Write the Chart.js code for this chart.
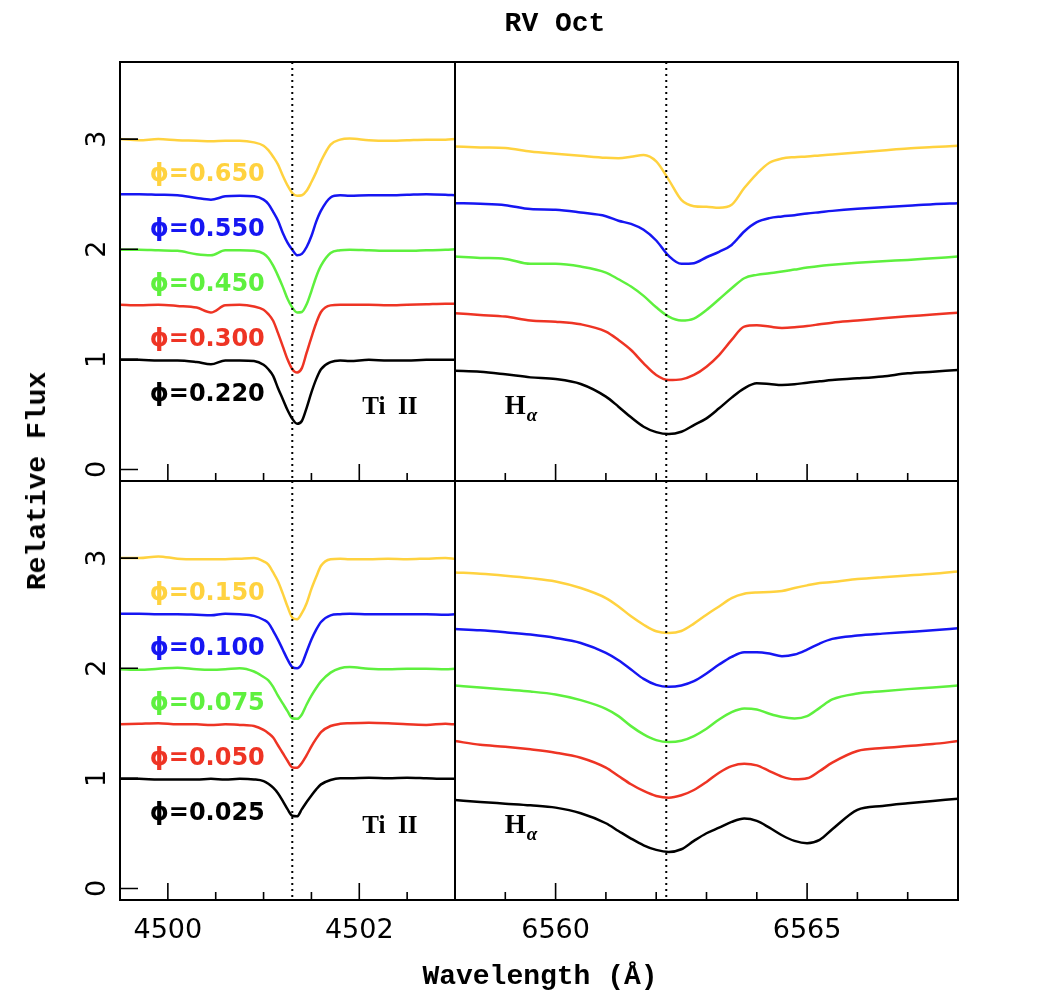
<!DOCTYPE html>
<html>
<head>
<meta charset="utf-8">
<title>RV Oct</title>
<script src="https://cdn.jsdelivr.net/npm/chart.js@4.4.1/dist/chart.umd.min.js"></script>
<style>
  html, body { margin: 0; padding: 0; background: #fff; }
  #wrap { position: relative; width: 1051px; height: 1004px; overflow: hidden; }
  #wrap canvas { position: absolute; left: 0; top: 0; }
  .ttl {
    position: absolute; white-space: nowrap; color: #000;
    font-family: "Liberation Mono", "DejaVu Sans Mono", monospace;
    font-weight: bold; font-size: 28px; line-height: 1;
    transform: translate(-50%, -50%);
  }
  #title  { left: 555px; top: 24px; }
  #xtitle { left: 540px; top: 977px; }
  #ytitle { left: 38px;  top: 481px; transform: translate(-50%, -50%) rotate(-90deg); }
</style>
</head>
<body>
<div id="wrap">
  <canvas id="c-tl" width="1051" height="1004"></canvas>
  <canvas id="c-tr" width="1051" height="1004"></canvas>
  <canvas id="c-bl" width="1051" height="1004"></canvas>
  <canvas id="c-br" width="1051" height="1004"></canvas>
  <div class="ttl" id="title">RV Oct</div>
  <div class="ttl" id="xtitle">Wavelength (Å)</div>
  <div class="ttl" id="ytitle">Relative Flux</div>
</div>

<script>
/* ---------- data : wavelength grids ---------- */
const TI_WAVE = [4499.5, 4499.7, 4499.9, 4500.1, 4500.3, 4500.45, 4500.6, 4500.75, 4500.9,
  4501.0, 4501.05, 4501.1, 4501.15, 4501.2, 4501.25, 4501.3, 4501.35, 4501.4, 4501.45,
  4501.5, 4501.55, 4501.6, 4501.7, 4501.8, 4501.9, 4502.1, 4502.3, 4502.5, 4502.7, 4502.9, 4503.0];
const HA_WAVE = [6558, 6558.5, 6559, 6559.5, 6560, 6560.5, 6561, 6561.25, 6561.5, 6561.75,
  6562, 6562.25, 6562.5, 6562.75, 6563, 6563.25, 6563.5, 6563.75, 6564, 6564.25,
  6564.5, 6564.75, 6565, 6565.25, 6565.5, 6566, 6566.5, 6567, 6567.5, 6568];

/* ---------- Ti II, upper row (phi = 0.650 .. 0.220) ---------- */
const TI_650 = [3.00, 2.99, 3.00, 2.99, 2.985, 2.98, 2.985, 2.985, 2.97, 2.94, 2.90, 2.84, 2.77, 2.67, 2.58, 2.51, 2.485, 2.49, 2.53, 2.61, 2.70, 2.80, 2.95, 2.995, 3.005, 2.99, 2.985, 2.99, 2.995, 2.995, 3.00];
const TI_550 = [2.50, 2.50, 2.495, 2.49, 2.465, 2.45, 2.48, 2.485, 2.48, 2.45, 2.41, 2.34, 2.26, 2.15, 2.06, 1.995, 1.945, 1.958, 2.02, 2.12, 2.25, 2.35, 2.47, 2.49, 2.485, 2.49, 2.49, 2.495, 2.50, 2.495, 2.49];
const TI_450 = [1.995, 1.995, 1.99, 1.985, 1.955, 1.945, 1.99, 1.99, 1.985, 1.96, 1.92, 1.85, 1.76, 1.66, 1.55, 1.47, 1.425, 1.43, 1.50, 1.62, 1.75, 1.85, 1.965, 1.99, 1.995, 1.99, 1.985, 1.985, 1.99, 1.995, 2.00];
const TI_300 = [1.495, 1.49, 1.495, 1.485, 1.47, 1.425, 1.49, 1.495, 1.48, 1.45, 1.41, 1.35, 1.24, 1.12, 1.00, 0.91, 0.88, 0.92, 1.06, 1.20, 1.33, 1.43, 1.49, 1.495, 1.495, 1.495, 1.49, 1.495, 1.50, 1.505, 1.505];
const TI_220 = [0.995, 0.995, 0.99, 0.99, 0.975, 0.955, 0.99, 0.99, 0.985, 0.95, 0.91, 0.85, 0.74, 0.64, 0.54, 0.46, 0.415, 0.44, 0.56, 0.70, 0.82, 0.91, 0.975, 0.99, 0.985, 0.995, 0.99, 0.99, 0.995, 0.995, 0.995];

/* ---------- Ti II, lower row (phi = 0.150 .. 0.025) ---------- */
const TI_150 = [3.00, 3.00, 3.015, 2.995, 2.99, 2.99, 2.99, 2.995, 3.00, 2.97, 2.94, 2.87, 2.79, 2.68, 2.56, 2.46, 2.445, 2.50, 2.59, 2.72, 2.83, 2.93, 2.99, 2.995, 2.99, 2.99, 2.995, 2.99, 2.995, 3.00, 2.995];
const TI_100 = [2.495, 2.495, 2.49, 2.49, 2.485, 2.48, 2.495, 2.49, 2.475, 2.44, 2.41, 2.34, 2.26, 2.17, 2.08, 2.01, 2.00, 2.04, 2.15, 2.26, 2.35, 2.42, 2.48, 2.49, 2.495, 2.49, 2.49, 2.49, 2.49, 2.485, 2.49];
const TI_075 = [1.99, 1.985, 1.995, 2.005, 1.99, 1.985, 1.99, 2.00, 1.97, 1.92, 1.89, 1.83, 1.75, 1.68, 1.61, 1.545, 1.54, 1.58, 1.67, 1.75, 1.82, 1.88, 1.96, 2.00, 2.01, 1.995, 1.99, 1.995, 1.995, 1.99, 1.995];
const TI_050 = [1.49, 1.495, 1.50, 1.49, 1.49, 1.485, 1.49, 1.485, 1.475, 1.44, 1.41, 1.37, 1.30, 1.23, 1.16, 1.10, 1.095, 1.14, 1.21, 1.29, 1.36, 1.42, 1.475, 1.495, 1.50, 1.505, 1.50, 1.49, 1.485, 1.495, 1.49];
const TI_025 = [0.995, 0.995, 0.99, 0.99, 0.99, 0.995, 0.99, 0.995, 0.99, 0.975, 0.95, 0.915, 0.865, 0.795, 0.72, 0.66, 0.655, 0.72, 0.785, 0.845, 0.90, 0.945, 0.985, 1.00, 1.00, 1.005, 1.00, 1.005, 1.00, 0.995, 0.995];

/* ---------- H-alpha, upper row ---------- */
const HA_650 = [2.933, 2.924, 2.918, 2.888, 2.867, 2.848, 2.830, 2.827, 2.839, 2.855, 2.797, 2.630, 2.448, 2.391, 2.385, 2.376, 2.403, 2.555, 2.685, 2.785, 2.824, 2.836, 2.842, 2.852, 2.861, 2.879, 2.897, 2.915, 2.927, 2.939];
const HA_550 = [2.418, 2.412, 2.400, 2.364, 2.358, 2.333, 2.300, 2.258, 2.230, 2.176, 2.079, 1.939, 1.867, 1.873, 1.927, 1.976, 2.039, 2.161, 2.245, 2.282, 2.297, 2.309, 2.324, 2.336, 2.348, 2.367, 2.382, 2.394, 2.409, 2.418];
const HA_450 = [1.933, 1.921, 1.912, 1.867, 1.867, 1.842, 1.788, 1.727, 1.661, 1.576, 1.473, 1.388, 1.352, 1.370, 1.448, 1.545, 1.645, 1.736, 1.767, 1.782, 1.797, 1.815, 1.833, 1.848, 1.858, 1.876, 1.891, 1.903, 1.918, 1.933];
const HA_300 = [1.418, 1.403, 1.388, 1.352, 1.342, 1.318, 1.252, 1.176, 1.085, 0.964, 0.858, 0.812, 0.818, 0.858, 0.933, 1.039, 1.176, 1.297, 1.309, 1.297, 1.285, 1.291, 1.303, 1.318, 1.333, 1.352, 1.373, 1.391, 1.406, 1.424];
const HA_220 = [0.897, 0.888, 0.864, 0.836, 0.821, 0.776, 0.661, 0.570, 0.473, 0.388, 0.339, 0.321, 0.342, 0.403, 0.464, 0.555, 0.652, 0.736, 0.782, 0.776, 0.767, 0.773, 0.788, 0.800, 0.812, 0.827, 0.845, 0.873, 0.888, 0.903];

/* ---------- H-alpha, lower row ---------- */
const HA_150 = [2.870, 2.858, 2.840, 2.818, 2.788, 2.728, 2.637, 2.561, 2.471, 2.395, 2.335, 2.320, 2.338, 2.405, 2.486, 2.561, 2.637, 2.676, 2.688, 2.691, 2.701, 2.728, 2.752, 2.773, 2.782, 2.809, 2.827, 2.842, 2.858, 2.879];
const HA_100 = [2.356, 2.344, 2.326, 2.305, 2.275, 2.229, 2.139, 2.072, 1.988, 1.903, 1.849, 1.831, 1.843, 1.882, 1.952, 2.033, 2.103, 2.145, 2.145, 2.133, 2.109, 2.124, 2.169, 2.224, 2.266, 2.296, 2.314, 2.329, 2.344, 2.362];
const HA_075 = [1.843, 1.825, 1.806, 1.788, 1.761, 1.710, 1.631, 1.565, 1.474, 1.399, 1.347, 1.329, 1.341, 1.384, 1.450, 1.534, 1.601, 1.634, 1.625, 1.586, 1.556, 1.544, 1.565, 1.640, 1.716, 1.770, 1.791, 1.810, 1.825, 1.843];
const HA_050 = [1.338, 1.305, 1.287, 1.263, 1.233, 1.187, 1.097, 1.021, 0.946, 0.885, 0.840, 0.824, 0.846, 0.894, 0.967, 1.051, 1.111, 1.133, 1.118, 1.066, 1.015, 0.991, 1.000, 1.066, 1.142, 1.248, 1.275, 1.293, 1.311, 1.338];
const HA_025 = [0.803, 0.785, 0.770, 0.755, 0.734, 0.683, 0.592, 0.522, 0.453, 0.392, 0.350, 0.332, 0.356, 0.432, 0.501, 0.552, 0.604, 0.634, 0.613, 0.552, 0.483, 0.432, 0.411, 0.441, 0.537, 0.713, 0.749, 0.773, 0.794, 0.815];

/* ---------- labels / ticks ---------- */
const PHASES_TOP = ['0.650', '0.550', '0.450', '0.300', '0.220'];
const PHASES_BOT = ['0.150', '0.100', '0.075', '0.050', '0.025'];
const OFFSETS    = [3, 2.5, 2, 1.5, 1];          // continuum level of each spectrum
const COLORS     = ['#FFD23F', '#1616F2', '#5EF03E', '#EE3424', '#000000'];

const Y_TICKS   = [0, 1, 2, 3];
const TI_MARKS  = [4500, 4500.5, 4501, 4501.5, 4502, 4502.5];
const TI_LABELS = [4500, 4502];
const HA_MARKS  = [6559, 6560, 6561, 6562, 6563, 6564, 6565, 6566, 6567];
const HA_LABELS = [6560, 6565];
const TI_REST   = 4501.30;   // dotted reference lines
const HA_REST   = 6562.20;

/* ---------- layout (px) ---------- */
const W = 1051, H = 1004;
const COL_X = [120, 455, 958];
const ROW_Y = [62, 481, 900];
const Y_AXIS_W = 50, X_AXIS_H = 60;
const Y_MIN = -0.105, Y_MAX = 3.70;
const TICK_FONT = { family: 'DejaVu Sans', size: 27 };

/* ================================================================
 * panel decoration: ticks inside, frame, dotted line, labels
 * ================================================================ */
function decor(cfg) {
  return {
    id: 'decor',
    afterDatasetsDraw(chart) {
      const { ctx, chartArea: a, scales: { x, y } } = chart;
      ctx.save();
      ctx.strokeStyle = '#000';

      // dotted rest wavelength
      ctx.lineWidth = 2;
      ctx.setLineDash([2, 4]);
      const xr = x.getPixelForValue(cfg.rest);
      ctx.beginPath(); ctx.moveTo(xr, a.top); ctx.lineTo(xr, a.bottom); ctx.stroke();
      ctx.setLineDash([]);

      // tick marks pointing inward
      ctx.lineWidth = 1.6;
      ctx.beginPath();
      cfg.marks.forEach(v => {
        const px = x.getPixelForValue(v);
        const len = cfg.labels.includes(v) ? 17 : 8;
        ctx.moveTo(px, a.bottom); ctx.lineTo(px, a.bottom - len);
      });
      if (cfg.yTicks) {
        Y_TICKS.forEach(v => {
          const py = y.getPixelForValue(v);
          ctx.moveTo(a.left, py); ctx.lineTo(a.left + 18, py);
        });
      }
      ctx.stroke();

      // frame
      ctx.lineWidth = 2;
      ctx.strokeRect(a.left, a.top, a.right - a.left, a.bottom - a.top);

      // phase labels
      if (cfg.phases) {
        ctx.font = 'bold 24px "DejaVu Sans"';
        ctx.textAlign = 'left';
        ctx.textBaseline = 'middle';
        cfg.phases.forEach((p, i) => {
          ctx.fillStyle = COLORS[i];
          ctx.fillText('\u03D5=' + p, x.getPixelForValue(4499.81), y.getPixelForValue(OFFSETS[i] - 0.325));
        });
      }

      // line identification
      ctx.fillStyle = '#000';
      ctx.textBaseline = 'middle';
      ctx.font = 'bold 25px "Liberation Serif"';
      if (cfg.ion === 'Ti') {
        ctx.textAlign = 'center';
        ctx.fillText('Ti  II', x.getPixelForValue(4502.32), y.getPixelForValue(0.565));
      } else {
        ctx.textAlign = 'left';
        const hx = x.getPixelForValue(6558.99), hy = y.getPixelForValue(0.565);
        ctx.font = 'bold 27px "Liberation Serif"';
        ctx.fillText('H', hx, hy);
        const w = ctx.measureText('H').width;
        ctx.font = 'bold italic 19px "Liberation Serif"';
        ctx.fillText('\u03B1', hx + w + 1, hy + 9);
      }
      ctx.restore();
    }
  };
}

/* ================================================================
 * one panel = one chart on a full-page transparent canvas
 * ================================================================ */
function makePanel(id, wave, series, col, row, cfg) {
  const left = COL_X[col], right = COL_X[col + 1];
  const top = ROW_Y[row], bottom = ROW_Y[row + 1];
  const isTi = cfg.ion === 'Ti';
  const showX = row === 1, showY = !!cfg.yTicks;

  return new Chart(document.getElementById(id), {
    type: 'line',
    data: {
      datasets: series.map((flux, i) => ({
        data: wave.map((w, k) => ({ x: w, y: flux[k] })),
        borderColor: COLORS[i],
        borderWidth: 2.5,
        pointRadius: 0,
        cubicInterpolationMode: 'monotone',
        fill: false,
      }))
    },
    options: {
      responsive: false,
      animation: false,
      devicePixelRatio: 1,
      events: [],
      layout: {
        padding: {
          left: showY ? left - Y_AXIS_W : left,
          top,
          right: W - right,
          bottom: showX ? H - bottom - X_AXIS_H : H - bottom,
        }
      },
      plugins: { legend: { display: false }, tooltip: { enabled: false } },
      scales: {
        x: {
          type: 'linear',
          min: isTi ? 4499.5 : 6558,
          max: isTi ? 4503.0 : 6568,
          display: showX,
          grid: { display: false },
          border: { display: false },
          afterFit: s => { s.height = showX ? X_AXIS_H : 0; },
          afterBuildTicks: s => { s.ticks = cfg.labels.map(v => ({ value: v })); },
          ticks: {
            font: TICK_FONT, color: '#000', padding: 7,
            autoSkip: false, minRotation: 0, maxRotation: 0,
            callback: v => String(v),
          },
        },
        y: {
          min: Y_MIN, max: Y_MAX,
          display: showY,
          grid: { display: false },
          border: { display: false },
          afterFit: s => { s.width = showY ? Y_AXIS_W : 0; },
          afterBuildTicks: s => { s.ticks = Y_TICKS.map(v => ({ value: v })); },
          ticks: {
            font: TICK_FONT, color: '#000', padding: 5,
            minRotation: 90, maxRotation: 90, crossAlign: 'center',
            callback: v => String(v),
          },
        },
      },
    },
    plugins: [decor(cfg)],
  });
}

makePanel('c-tl', TI_WAVE, [TI_650, TI_550, TI_450, TI_300, TI_220], 0, 0,
  { ion: 'Ti', rest: TI_REST, marks: TI_MARKS, labels: TI_LABELS, yTicks: true, phases: PHASES_TOP });
makePanel('c-tr', HA_WAVE, [HA_650, HA_550, HA_450, HA_300, HA_220], 1, 0,
  { ion: 'Ha', rest: HA_REST, marks: HA_MARKS, labels: HA_LABELS });
makePanel('c-bl', TI_WAVE, [TI_150, TI_100, TI_075, TI_050, TI_025], 0, 1,
  { ion: 'Ti', rest: TI_REST, marks: TI_MARKS, labels: TI_LABELS, yTicks: true, phases: PHASES_BOT });
makePanel('c-br', HA_WAVE, [HA_150, HA_100, HA_075, HA_050, HA_025], 1, 1,
  { ion: 'Ha', rest: HA_REST, marks: HA_MARKS, labels: HA_LABELS });
</script>
</body>
</html>
